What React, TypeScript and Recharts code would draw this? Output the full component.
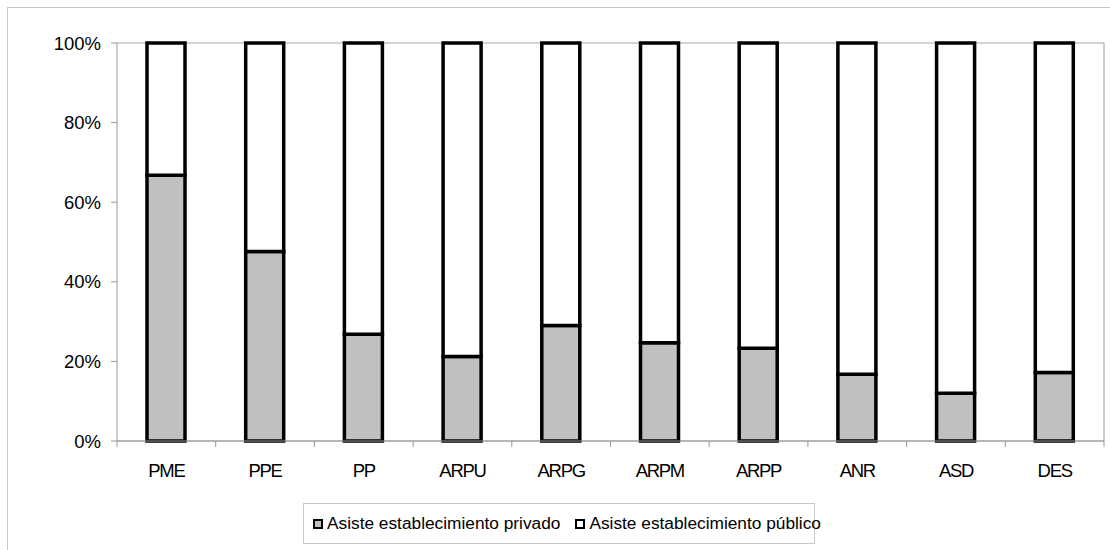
import React from "react";
import { BarChart, Bar, XAxis, YAxis, CartesianGrid } from "recharts";

const categories = ["PME", "PPE", "PP", "ARPU", "ARPG", "ARPM", "ARPP", "ANR", "ASD", "DES"];
const privado = [66.8, 47.6, 26.8, 21.2, 29.0, 24.7, 23.3, 16.8, 12.0, 17.2];
const publico = [33.2, 52.4, 73.2, 78.8, 71.0, 75.3, 76.7, 83.2, 88.0, 82.8];
const yTicks = [0, 20, 40, 60, 80, 100];
const seriesNames = ["Asiste establecimiento privado", "Asiste establecimiento público"];
const seriesColors = ["#c0c0c0", "#ffffff"];

const data = categories.map((c, i) => ({ cat: c, privado: privado[i], publico: publico[i] }));

const FONT = "'Liberation Sans', Arial, sans-serif";
const LEFT = 117;
const RIGHT = 1104;
const BAND = (RIGHT - LEFT) / categories.length;

const XTick = (props: any) => {
  const { x, y, payload, index } = props;
  const half = BAND / 2;
  return (
    <g>
      <line x1={x - half} y1={441} x2={x - half} y2={447} stroke="#999" />
      {index === categories.length - 1 && (
        <line x1={x + half} y1={441} x2={x + half} y2={447} stroke="#999" />
      )}
      <text x={x} y={y} dy="0.71em" textAnchor="middle" fontSize={18.5} fill="#000" fontFamily={FONT} letterSpacing={-1.3}>
        {payload.value}
      </text>
    </g>
  );
};

export default function App() {
  return (
    <div style={{ position: "absolute", left: 0, top: 0, width: 1110, height: 550, background: "#fff", overflow: "hidden" }}>
      <div style={{ position: "absolute", left: 7, top: 7, width: 1110, height: 550, borderLeft: "1px solid #c8c8c8", borderTop: "1px solid #c8c8c8" }} />
      <div style={{ position: "absolute", left: 0, top: 0 }}>
        <BarChart width={1110} height={550} data={data} margin={{ top: 43, right: 0, bottom: 109 - 50, left: 0 }} barSize={38}>
          <CartesianGrid vertical={false} stroke="#a8a8a8" />
          <XAxis
            dataKey="cat"
            height={50}
            axisLine={{ stroke: "#999" }}
            tickLine={false}
            tickSize={6}
            tickMargin={17}
            tick={<XTick />}
            interval={0}
          />
          <YAxis
            yAxisId="left"
            width={LEFT}
            domain={[0, 100]}
            ticks={yTicks}
            tickFormatter={(v: number) => `${v}%`}
            axisLine={{ stroke: "#999" }}
            tickLine={{ stroke: "#999" }}
            tickSize={6}
            tickMargin={10}
            tick={{ fontSize: 18.5, fill: "#000", fontFamily: FONT }}
          />
          <YAxis
            yAxisId="right"
            orientation="right"
            width={1110 - RIGHT}
            domain={[0, 100]}
            ticks={yTicks}
            tick={false}
            tickLine={false}
            axisLine={{ stroke: "#999" }}
          />
          <Bar yAxisId="left" dataKey="privado" stackId="a" fill={seriesColors[0]} stroke="#000" strokeWidth={3.5} isAnimationActive={false} />
          <Bar yAxisId="left" dataKey="publico" stackId="a" fill={seriesColors[1]} stroke="#000" strokeWidth={3.5} isAnimationActive={false} />
        </BarChart>
      </div>
      <div
        style={{
          position: "absolute",
          left: 303,
          top: 503,
          width: 512,
          height: 41,
          border: "1px solid #c8c8c8",
          boxSizing: "border-box",
          display: "flex",
          alignItems: "center",
          paddingLeft: 9,
          fontFamily: FONT,
          fontSize: 17.3,
          color: "#000",
          whiteSpace: "nowrap",
        }}
      >
        {seriesNames.map((n, i) => (
          <span key={n} style={{ display: "inline-flex", alignItems: "center", marginRight: i === 0 ? 15 : 0 }}>
            <span style={{ display: "inline-block", width: 6, height: 6, border: "2.5px solid #000", background: seriesColors[i], marginRight: 4 }} />
            {n}
          </span>
        ))}
      </div>
    </div>
  );
}
